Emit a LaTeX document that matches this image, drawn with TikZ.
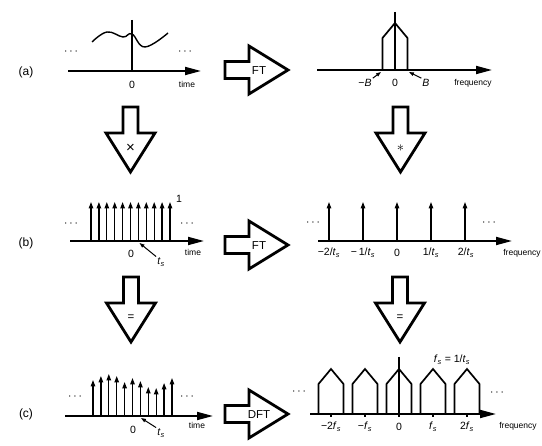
\documentclass[tikz,border=0pt]{standalone}
\usepackage{fontspec}
\setmainfont{Liberation Sans}
\usetikzlibrary{arrows.meta,positioning}
\newcommand{\ts}{\textit{t}\textsubscript{\textit{s}}}
\newcommand{\fs}{\textit{f}\textsubscript{\textit{s}}}
\newcommand{\bigop}[1]{{\fontsize{15}{15}\selectfont #1}}

\begin{document}
\begin{tikzpicture}[x=1pt, y=-1pt, line join=miter,
  blk/.style={draw=black, line width=2.8pt, fill=white},
  blktxt/.style={font=\fontsize{11.5}{13}\selectfont, inner sep=0pt},
  axis/.style={line width=1.8pt, -{Triangle[length=16pt, width=8pt]}},
  imp/.style={line width=1.3pt, -{Triangle[length=6.5pt, width=4.5pt]}},
  stem/.style={line width=1.2pt},
  pulse/.style={line width=1.7pt},
  ptr/.style={line width=1pt, -{Triangle[length=5pt, width=3.5pt]}},
  lbl/.style={font=\fontsize{12}{14}\selectfont},
  tk/.style={font=\fontsize{10.5}{12}\selectfont, inner sep=1pt},
  ax/.style={font=\fontsize{8.5}{10}\selectfont, inner sep=1pt},
  more/.style={font=\fontsize{12}{12}\selectfont, inner sep=0pt}]

\useasboundingbox (0,0) rectangle (542,446);

% ================================================ block arrows
\foreach \y/\t/\n in {70/FT/fta, 245/FT/ftb, 414/DFT/dft}{
  \begin{scope}[shift={(249,\y)}]
    \draw[blk] (-24,-8.5) -- (0,-8.5) -- (0,-24) -- (39,0) -- (0,24) -- (0,8.5) -- (-24,8.5) -- cycle;
    \node[blktxt] (\n) at (10,1) {\t};
  \end{scope}}
\foreach \x/\y/\t/\n in {130.5/133/{\bigop{×}}/mul, 400.5/133/{\bigop{$\ast$}}/conv, 131/303/=/eqa, 400/303/=/eqb}{
  \begin{scope}[shift={(\x,\y)}]
    \draw[blk] (-7.5,-26) -- (7.5,-26) -- (7.5,0) -- (24.5,0) -- (0,39) -- (-24.5,0) -- (-7.5,0) -- cycle;
    \node[blktxt] (\n) at (0,15) {\t};
  \end{scope}}

% ================================================ (a) signal and spectrum
\node[lbl] (ra) at (26,72) {(a)};
\draw[stem] (132,20) -- (132,71);
\draw[axis] (68,71) -- (201,71);
\draw[line width=1.4pt] plot[smooth, tension=0.7]
  coordinates {(92,42) (107,32) (123,37) (132,34) (145,47) (168,33)};
\node[more] (dal) at (71,52) {$\cdots$};
\node[more] (dar) at (185,52) {$\cdots$};
\node[tk] (za) at (132,85) {0};
\node[ax] (tima) at (187,84) {time};

\draw[stem] (395,12) -- (395,70);
\draw[axis] (317,70) -- (492,70);
\draw[pulse] (382.5,70) -- (382.5,38) -- (395,23) -- (407.5,38) -- (407.5,70);
\coordinate (bl) at (381,72);
\coordinate (br) at (409,72);
\node[tk] (mB) at (365,83) {−\textit{B}};
\node[tk] (zfa) at (395,83) {0};
\node[tk] (pB) at (426,83) {\textit{B}};
\draw[ptr] (mB.north east) -- (bl);
\draw[ptr] (pB.north west) -- (br);
\node[ax] (freqa) at (473,83) {frequency};

% ================================================ (b) sampling comb
\node[lbl] (rb) at (26,243) {(b)};
\foreach \i in {0,...,10}
  \draw[imp] ({91+7.9*\i},241) -- ({91+7.9*\i},202);
\draw[axis] (70,241) -- (204,241);
\node[more] (dbl) at (71,224) {$\cdots$};
\node[more] (dbr) at (187,224) {$\cdots$};
\node[tk] (one) at (179,199) {1};
\node[tk] (zb) at (131,254) {0};
\node[tk] (tsb) at (161,262) {\ts};
\coordinate (tsbp) at (139.5,243);
\draw[ptr] (tsb.north west) -- (tsbp);
\node[ax] (timb) at (193,252) {time};

\foreach \k in {-2,...,2}
  \draw[imp] ({397+34*\k},241) -- ({397+34*\k},202);
\draw[axis] (318,241) -- (512,241);
\node[more] (dfl) at (313,223) {$\cdots$};
\node[more] (dfr) at (489,223) {$\cdots$};
\node[tk] (fb1) at (329,253) {−2/\ts};
\node[tk] (fb2) at (363,253) {−\,1/\ts};
\node[tk] (fb3) at (397,253) {0};
\node[tk] (fb4) at (431,253) {1/\ts};
\node[tk] (fb5) at (466,253) {2/\ts};
\node[ax] (freqb) at (522,253) {frequency};

% ================================================ (c) sampled signal and DFT
\node[lbl] (rc) at (26,414) {(c)};
\foreach \i/\h in {0/380, 1/376, 2/374, 3/376, 4/382, 5/378, 6/381, 7/387, 8/388, 9/383, 10/378}
  \draw[imp] ({93+7.9*\i},416) -- ({93+7.9*\i},\h);
\draw[axis] (65,416) -- (213,416);
\node[more] (dcl) at (75,397) {$\cdots$};
\node[more] (dcr) at (187,397) {$\cdots$};
\node[tk] (zc) at (133,430) {0};
\node[tk] (tsc) at (161,433) {\ts};
\coordinate (tscp) at (141,418);
\draw[ptr] (tsc.north west) -- (tscp);
\node[ax] (timc) at (197,425) {time};

\draw[stem] (399,357) -- (399,414);
\foreach \k in {-2,...,2}{
  \draw[pulse] ({399+34*\k-12.5},414) -- ++(0,-30) -- ++(12.5,-15) -- ++(12.5,15) -- ++(0,30);
  \draw[line width=1.2pt] ({399+34*\k},414) -- ++(0,3);}
\draw[axis] (310,414) -- (496,414);
\node[more] (dgl) at (299,392) {$\cdots$};
\node[more] (dgr) at (497,393) {$\cdots$};
\node[tk] (fsdef) at (452,360) {\fs{} = 1/\ts};
\node[tk] (fc1) at (331,427) {−2\fs};
\node[tk] (fc2) at (365,427) {−\fs};
\node[tk] (fc3) at (399,427) {0};
\node[tk] (fc4) at (433,427) {\fs};
\node[tk] (fc5) at (467,427) {2\fs};
\node[ax] (freqc) at (518,426) {frequency};

\end{tikzpicture}
\end{document}
